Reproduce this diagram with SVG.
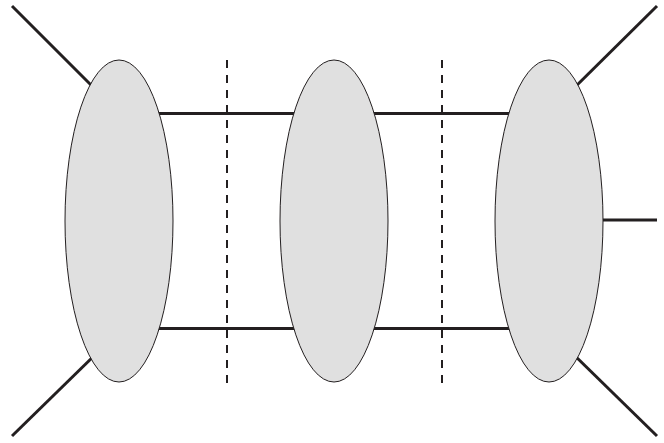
<svg xmlns="http://www.w3.org/2000/svg" width="664" height="443" viewBox="0 0 664 443">
<style>
.ln{stroke:#231f20;stroke-width:3;fill:none}
.dash{stroke:#231f20;stroke-width:2;stroke-dasharray:8 7;fill:none}
.blob{fill:#e0e0e0;stroke:#231f20;stroke-width:1}
</style>
<rect width="664" height="443" fill="#fff"/>
<g id="connectors">
<line class="ln" x1="12" y1="6" x2="100" y2="94"/>
<line class="ln" x1="12" y1="436" x2="100" y2="350"/>
<line class="ln" x1="657" y1="6" x2="570" y2="92"/>
<line class="ln" x1="657" y1="436" x2="570" y2="351"/>
<line class="ln" x1="590" y1="220" x2="657" y2="220"/>
<line class="ln" x1="119" y1="113.5" x2="549" y2="113.5"/>
<line class="ln" x1="119" y1="328.5" x2="549" y2="328.5"/>
<line class="dash" x1="227" y1="60" x2="227" y2="383"/>
<line class="dash" x1="442" y1="60" x2="442" y2="383"/>
</g>
<g id="blob1"><ellipse class="blob" cx="119" cy="221" rx="54" ry="161"/></g>
<g id="blob2"><ellipse class="blob" cx="334" cy="221" rx="54" ry="161"/></g>
<g id="blob3"><ellipse class="blob" cx="549" cy="221" rx="54" ry="161"/></g>
</svg>
